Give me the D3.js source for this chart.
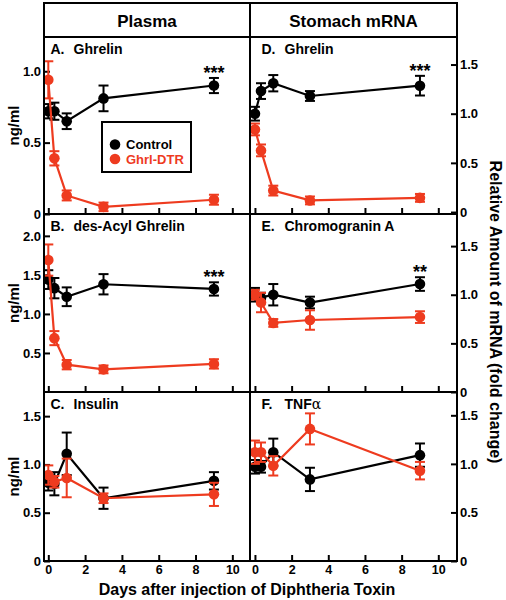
<!DOCTYPE html>
<html><head><meta charset="utf-8">
<script src="https://cdn.jsdelivr.net/npm/d3@7"></script>
<style>
body{margin:0;background:#fff}
text{font-family:"Liberation Sans",Arial,Helvetica,sans-serif;font-weight:bold}
</style></head>
<body><svg id="c" width="506" height="600"></svg>
<script>
// ---- data ----
const days = [0, 0.33, 1, 3, 9];
const xTicks = [0, 2, 4, 6, 8, 10];
const seriesNames = ["Control", "Ghrl-DTR"];

const ghrelinPlasmaCtrl = [0.72, 0.72, 0.65, 0.81, 0.90];
const ghrelinPlasmaCtrlErr = [0.05, 0.06, 0.055, 0.09, 0.053];
const ghrelinPlasmaDtr = [0.94, 0.39, 0.13, 0.05, 0.10];
const ghrelinPlasmaDtrErr = [0.13, 0.05, 0.035, 0.03, 0.035];

const desAcylCtrl = [1.44, 1.33, 1.22, 1.38, 1.32];
const desAcylCtrlErr = [0.12, 0.13, 0.12, 0.13, 0.085];
const desAcylDtr = [1.69, 0.69, 0.35, 0.29, 0.36];
const desAcylDtrErr = [0.2, 0.09, 0.06, 0.05, 0.06];

const insulinCtrl = [0.81, 0.80, 1.11, 0.65, 0.83];
const insulinCtrlErr = [0.08, 0.12, 0.22, 0.11, 0.09];
const insulinDtr = [0.89, 0.82, 0.86, 0.65, 0.69];
const insulinDtrErr = [0.1, 0.06, 0.2, 0.05, 0.12];

const ghrelinMrnaCtrl = [1.0, 1.23, 1.31, 1.18, 1.285];
const ghrelinMrnaCtrlErr = [0.07, 0.08, 0.083, 0.05, 0.1];
const ghrelinMrnaDtr = [0.84, 0.627, 0.218, 0.118, 0.144];
const ghrelinMrnaDtrErr = [0.06, 0.06, 0.05, 0.04, 0.04];

const chgaCtrl = [1.0, 0.97, 1.0, 0.92, 1.11];
const chgaCtrlErr = [0.07, 0.05, 0.11, 0.06, 0.07];
const chgaDtr = [1.0, 0.92, 0.71, 0.74, 0.77];
const chgaDtrErr = [0.05, 0.1, 0.04, 0.1, 0.06];

const tnfCtrl = [0.97, 0.97, 1.12, 0.84, 1.09];
const tnfCtrlErr = [0.07, 0.06, 0.14, 0.12, 0.12];
const tnfDtr = [1.12, 1.12, 0.98, 1.36, 0.93];
const tnfDtrErr = [0.12, 0.1, 0.1, 0.16, 0.09];

const panelLetters = ["A.", "B.", "C.", "D.", "E.", "F."];
const panelTitles = ["Ghrelin", "des-Acyl Ghrelin", "Insulin", "Ghrelin", "Chromogranin A", "TNF"];
const panelStars = ["***", "***", "", "***", "**", ""];
const yTickSets = [[0, 0.5, 1.0], [0.5, 1.0, 1.5, 2.0], [0, 0.5, 1.0, 1.5],
                   [0, 0.5, 1.0, 1.5], [0, 0.5, 1.0, 1.5], [0, 0.5, 1.0, 1.5]];
const columnTitles = ["Plasma", "Stomach mRNA"];

// ---- layout ----
const W = 506, H = 600;
const L = 44, M = 250, R = 457, T = 3, HB = 37;
const rowB = [37, 214, 392, 561];
const black = "#000", red = "#ee3b1f";
const yDomains = [[0, 1.24], [0, 2.28], [0, 1.75], [-0.02, 1.78], [0, 1.83], [0, 1.74]];

const panels = [
  {col:0,row:0,c:ghrelinPlasmaCtrl,ce:ghrelinPlasmaCtrlErr,d:ghrelinPlasmaDtr,de:ghrelinPlasmaDtrErr},
  {col:0,row:1,c:desAcylCtrl,ce:desAcylCtrlErr,d:desAcylDtr,de:desAcylDtrErr},
  {col:0,row:2,c:insulinCtrl,ce:insulinCtrlErr,d:insulinDtr,de:insulinDtrErr},
  {col:1,row:0,c:ghrelinMrnaCtrl,ce:ghrelinMrnaCtrlErr,d:ghrelinMrnaDtr,de:ghrelinMrnaDtrErr},
  {col:1,row:1,c:chgaCtrl,ce:chgaCtrlErr,d:chgaDtr,de:chgaDtrErr},
  {col:1,row:2,c:tnfCtrl,ce:tnfCtrlErr,d:tnfDtr,de:tnfDtrErr}
];

const svg = d3.select("#c");
svg.append("rect").attr("width", W).attr("height", H).attr("fill", "#fff");

const xScales = [
  d3.scaleLinear().domain([-0.234, 10.96]).range([L, M]),
  d3.scaleLinear().domain([-0.27, 11.02]).range([M, R])
];
const fmt = v => v === 0 ? "0" : d3.format(".1f")(v);

panels.forEach((p, i) => {
  const x = xScales[p.col];
  const top = rowB[p.row], bot = rowB[p.row + 1];
  const y = d3.scaleLinear().domain(yDomains[i]).range([bot, top]);
  const g = svg.append("g");

  // y axis
  const ax = p.col === 0 ? d3.axisLeft(y) : d3.axisRight(y);
  const yg = g.append("g").attr("transform", `translate(${p.col === 0 ? L : R},0)`)
    .call(ax.tickValues(yTickSets[i]).tickFormat(fmt).tickSize(-6).tickPadding(3));
  yg.select(".domain").remove();
  yg.selectAll("line").attr("stroke-width", 2);
  yg.selectAll("text").attr("font-size", 13).attr("fill", "#000")
    .style("font-family", "Liberation Sans, Arial, sans-serif").style("font-weight", "bold");

  // x axis
  const xg = g.append("g").attr("transform", `translate(0,${bot})`)
    .call(d3.axisBottom(x).tickValues(xTicks).tickSize(-6).tickPadding(4)
      .tickFormat(p.row === 2 ? d3.format("d") : () => ""));
  xg.select(".domain").remove();
  xg.selectAll("line").attr("stroke-width", 2);
  xg.selectAll("text").attr("font-size", 12.5).attr("fill", "#000")
    .style("font-family", "Liberation Sans, Arial, sans-serif").style("font-weight", "bold");

  // panel label
  const lx = p.col === 0 ? 50.5 : 261.5;
  g.append("text").attr("x", lx).attr("y", top + 16.5).attr("font-size", 14).text(panelLetters[i]);
  const t = g.append("text").attr("x", lx + 23).attr("y", top + 16.5).attr("font-size", 14).text(panelTitles[i]);
  if (i === 5) t.append("tspan").attr("font-weight", "normal").style("font-weight", "normal")
    .style("font-family", "DejaVu Serif, serif").attr("font-size", 14).text("α");

  // series
  const drawSeries = (vals, errs, color) => {
    const sg = g.append("g");
    days.forEach((dv, k) => {
      const cx = x(dv), y1 = y(vals[k] - errs[k]), y2 = y(vals[k] + errs[k]);
      sg.append("line").attr("x1", cx).attr("x2", cx).attr("y1", y1).attr("y2", y2)
        .attr("stroke", color).attr("stroke-width", 2);
      [y1, y2].forEach(yy => sg.append("line").attr("x1", cx - 5).attr("x2", cx + 5)
        .attr("y1", yy).attr("y2", yy).attr("stroke", color).attr("stroke-width", 2));
    });
    sg.append("path").datum(vals)
      .attr("d", d3.line().x((v, k) => x(days[k])).y(v => y(v)))
      .attr("fill", "none").attr("stroke", color).attr("stroke-width", 2.2);
    sg.selectAll("circle").data(vals).enter().append("circle")
      .attr("cx", (v, k) => x(days[k])).attr("cy", v => y(v)).attr("r", 5.3).attr("fill", color);
  };
  drawSeries(p.c, p.ce, black);
  drawSeries(p.d, p.de, red);

  // significance stars
  if (panelStars[i]) {
    const k = days.length - 1;
    g.append("text").attr("x", x(days[k])).attr("y", y(p.c[k] + p.ce[k]) + 1)
      .attr("text-anchor", "middle").attr("font-size", 18).text(panelStars[i]);
  }
});

// frame
const fr = svg.append("g").attr("stroke", "#000").attr("stroke-width", 2).attr("fill", "none");
fr.append("rect").attr("x", L).attr("y", T).attr("width", R - L).attr("height", rowB[3] - T);
[HB, rowB[1], rowB[2]].forEach(yy => fr.append("line").attr("x1", L).attr("x2", R).attr("y1", yy).attr("y2", yy));
fr.append("line").attr("x1", M).attr("x2", M).attr("y1", T).attr("y2", rowB[3]);

// column titles
svg.append("text").attr("x", (L + M) / 2).attr("y", 27).attr("text-anchor", "middle").attr("font-size", 17).text(columnTitles[0]);
svg.append("text").attr("x", (M + R) / 2).attr("y", 27).attr("text-anchor", "middle").attr("font-size", 17).text(columnTitles[1]);

// left axis titles
[0, 1, 2].forEach(r => {
  const cy = (rowB[r] + rowB[r + 1]) / 2;
  svg.append("text").attr("transform", `translate(19,${cy}) rotate(-90)`)
    .attr("text-anchor", "middle").attr("font-size", 15).text("ng/ml");
});
// right axis title
svg.append("text").attr("transform", `translate(490,312) rotate(90)`)
  .attr("text-anchor", "middle").attr("font-size", 16).text("Relative Amount of mRNA (fold change)");
// x axis title
svg.append("text").attr("x", 247).attr("y", 595).attr("text-anchor", "middle").attr("font-size", 16)
  .text("Days after injection of Diphtheria Toxin");

// legend
const lg = svg.append("g");
lg.append("rect").attr("x", 102).attr("y", 122).attr("width", 89).attr("height", 50)
  .attr("fill", "#fff").attr("stroke", "#000").attr("stroke-width", 2);
[black, red].forEach((c, k) => {
  const yy = 144.5 + k * 14.5;
  lg.append("circle").attr("cx", 115).attr("cy", yy).attr("r", 5.3).attr("fill", c);
  lg.append("text").attr("x", 126).attr("y", yy + 4.7).attr("font-size", 13).attr("fill", c).text(seriesNames[k]);
});
</script></body></html>
